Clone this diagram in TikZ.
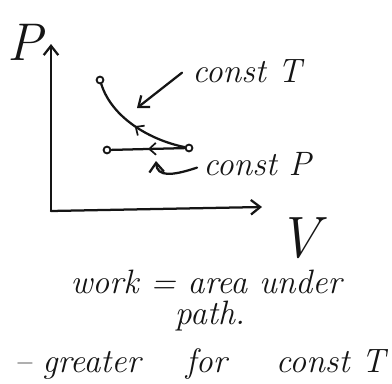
\documentclass[tikz,border=0pt]{standalone}
\usepackage{xcolor}
\usetikzlibrary{arrows.meta,decorations.markings}
\definecolor{inchiostro}{HTML}{151515}
\definecolor{foglio}{HTML}{FFFFFF}

\begin{document}
\begin{tikzpicture}[x=0.0265cm,y=-0.0265cm,
    tratto/.style={inchiostro, line width=1.7pt, line cap=round, line join=round},
    freccia/.style={tratto, -{Straight Barb[length=7pt,width=11pt]}},
    punto/.style={circle, draw=inchiostro, line width=1.4pt, inner sep=0pt, minimum size=0.18cm},
    scritta/.style={text=inchiostro, inner sep=0pt, font=\itshape\fontsize{25.5}{30}\selectfont},
    midfreccia/.style={postaction={decorate}, decoration={markings,
      mark=at position 0.5 with {\arrow[inchiostro,line width=1.3pt]{Straight Barb[length=5pt,width=9pt]}}}}]

  % ---- Foglio --------------------------------------------------------------
  \fill[foglio] (0,0) rectangle (392,383);
  \useasboundingbox (0,0) rectangle (392,383);

  % ---- Assi P-V --------------------------------------------------------------
  \coordinate (origine) at (51,211);
  \coordinate (cimaP) at (51,44);
  \coordinate (fineV) at (262,207);
  \draw[freccia] (origine) -- (cimaP);
  \draw[freccia] (origine) -- (fineV);
  \node[scritta, font=\itshape\fontsize{40}{44}\selectfont] (P) at (25,42) {P};
  \node[scritta, font=\itshape\fontsize{44}{48}\selectfont] (V) at (299,238) {V};

  % ---- Stati e trasformazioni ---------------------------------------------
  \node[punto] (alto) at (100,80) {};
  \node[punto] (destra) at (189,148) {};
  \node[punto] (sinistra) at (107,150) {};

  % isoterma: da destra verso l'alto a sinistra
  \draw[tratto, midfreccia] (destra) .. controls (150,140) and (112,118) .. (alto);
  % isobara
  \draw[tratto, midfreccia] (destra) -- (sinistra);

  % ---- Etichette con freccia ----------------------------------------------
  \node[scritta, anchor=base west] (costT) at (192,82) {const T};
  \coordinate (puntaT) at (137,108);
  \draw[freccia] (costT.west) ++(-10,2) -- (puntaT);

  \node[scritta, anchor=base west] (costP) at (203,175) {const P};
  \coordinate (puntaP) at (156,161);
  \draw[freccia] (costP.west) ++(-6,4) .. controls (172,176) and (157,177) .. (puntaP);

  % ---- Nota sul lavoro ------------------------------------------------------
  \node[scritta, anchor=base] (lavoro) at (206,293) {work = area under};
  \node[scritta, anchor=base] (cammino) at (210,324) {path.};
  \node[scritta, anchor=base west] (maggiore) at (14,372)
    {--\hspace{0.3cm}greater\hspace{1.2cm}for\hspace{1.3cm}const T};

\end{tikzpicture}
\end{document}
